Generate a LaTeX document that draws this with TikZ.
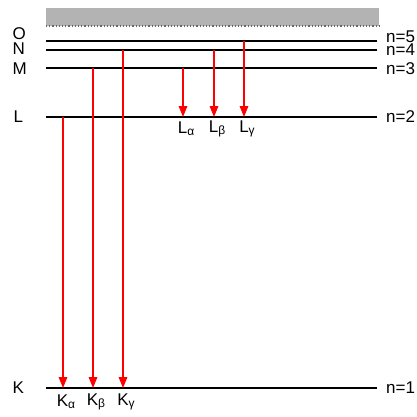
\documentclass[tikz,border=0pt]{standalone}
\usepackage{fontspec}
\setmainfont{Liberation Sans}
\usepackage{tikz}
\usetikzlibrary{arrows.meta,positioning}
\definecolor{BandGray}{HTML}{B3B3B3}
\definecolor{LineRed}{HTML}{FF0000}
\newcommand{\lowsub}[1]{\raisebox{-0.2ex}{\fontsize{12}{14}\selectfont #1}}
\tikzset{
  level/.style={line width=2pt,draw=black},
  trans/.style={-{Triangle[length=11pt,width=8.5pt]},line width=1.6pt,draw=LineRed},
  shell/.style={anchor=west,inner sep=0pt,font=\fontsize{17}{19}\selectfont},
  qnum/.style={anchor=west,inner sep=0pt,font=\fontsize{17}{19}\selectfont},
  linelabel/.style={anchor=center,inner sep=0pt,font=\fontsize{17}{19}\selectfont}
}
\begin{document}
\begin{tikzpicture}[x=1pt,y=-1pt]
  \useasboundingbox (0,0) rectangle (417,416);
  % continuum
  \fill[BandGray] (46,8) rectangle (379,26);
  \draw[dotted,line width=1.2pt,draw=black!60] (46,26) -- (379,26);

  % energy levels
  \coordinate (O0) at (46,41);  \coordinate (O1) at (377,41);
  \coordinate (N0) at (46,50);  \coordinate (N1) at (377,50);
  \coordinate (M0) at (46,68);  \coordinate (M1) at (377,68);
  \coordinate (L0) at (46,117); \coordinate (L1) at (377,117);
  \coordinate (K0) at (46,388); \coordinate (K1) at (377,388);
  \draw[level] (O0) -- (O1);
  \draw[level] (N0) -- (N1);
  \draw[level] (M0) -- (M1);
  \draw[level] (L0) -- (L1);
  \draw[level] (K0) -- (K1);

  \node[shell] (shO) at (12.5,34) {O};
  \node[shell] (shN) at (12.5,49) {N};
  \node[shell] (shM) at (12.5,69) {M};
  \node[shell] (shL) at (13.5,117) {L};
  \node[shell] (shK) at (12.5,388) {K};

  \node[qnum] (n5) at (386,37) {n=5};
  \node[qnum] (n4) at (386,50) {n=4};
  \node[qnum] (n3) at (386,69) {n=3};
  \node[qnum] (n2) at (386,117) {n=2};
  \node[qnum] (n1) at (386,388) {n=1};

  % transitions
  \coordinate (kaS) at (63,117);  \coordinate (kaE) at (63,388);
  \coordinate (kbS) at (93,68);   \coordinate (kbE) at (93,388);
  \coordinate (kgS) at (123,50);  \coordinate (kgE) at (123,388);
  \coordinate (laS) at (183,68);  \coordinate (laE) at (183,117);
  \coordinate (lbS) at (214,50);  \coordinate (lbE) at (214,117);
  \coordinate (lgS) at (244,41);  \coordinate (lgE) at (244,117);
  \draw[trans] (kaS) -- (kaE);
  \draw[trans] (kbS) -- (kbE);
  \draw[trans] (kgS) -- (kgE);
  \draw[trans] (laS) -- (laE);
  \draw[trans] (lbS) -- (lbE);
  \draw[trans] (lgS) -- (lgE);

  \node[linelabel] (ka) at (66,402) {K\lowsub{α}};
  \node[linelabel] (kb) at (96,402) {K\lowsub{β}};
  \node[linelabel] (kg) at (126,402) {K\lowsub{γ}};
  \node[linelabel] (la) at (186,129) {L\lowsub{α}};
  \node[linelabel] (lb) at (217,129) {L\lowsub{β}};
  \node[linelabel] (lg) at (247,129) {L\lowsub{γ}};
\end{tikzpicture}
\end{document}
